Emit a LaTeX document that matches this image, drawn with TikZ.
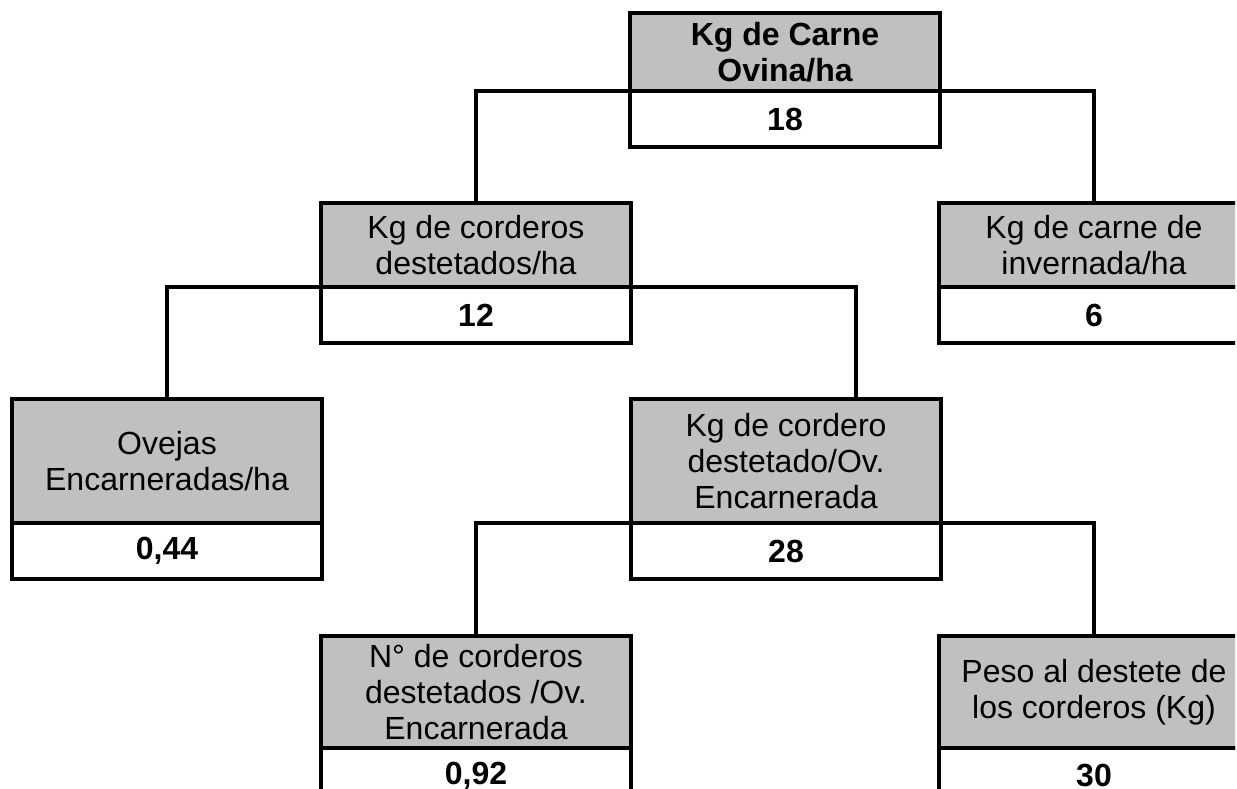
\documentclass[tikz,border=0pt]{standalone}
\usepackage{fontspec}
\setmainfont{Liberation Sans}
\definecolor{boxgray}{HTML}{C0C0C0}
\tikzset{
  head/.style={draw=black, line width=3.2pt, fill=boxgray, minimum width=310pt,
    inner sep=0pt, outer sep=0pt, align=center, anchor=north west,
    font=\fontsize{32}{36}\selectfont},
  val/.style={draw=black, line width=3.2pt, fill=white, minimum width=310pt,
    minimum height=56pt, inner sep=0pt, outer sep=0pt, anchor=north west,
    font=\fontsize{32}{36}\selectfont\bfseries},
  link/.style={line width=3.2pt}
}
\begin{document}
\begin{tikzpicture}[x=1pt, y=-1pt]
\useasboundingbox (0,0) rectangle (1237,789);
\clip (0,0) rectangle (1235,789);

% tree boxes: grey heading with the value cell underneath
\node[head, minimum height=78pt, font=\fontsize{32}{36}\selectfont\bfseries] (Ah) at (630,13) {Kg de Carne\\Ovina/ha};
\node[head, minimum height=84pt] (Bh) at (321,203) {Kg de corderos\\destetados/ha};
\node[head, minimum height=84pt] (Ch) at (939,203) {Kg de carne de\\invernada/ha};
\node[head, minimum height=124pt] (Dh) at (12,399) {Ovejas\\Encarneradas/ha};
\node[head, minimum height=124pt] (Eh) at (631,399) {Kg de cordero\\destetado/Ov.\\Encarnerada};
\node[head, minimum height=112pt] (Fh) at (321,636) {N° de corderos\\destetados /Ov.\\Encarnerada};
\node[head, minimum height=112pt] (Gh) at (939,636) {Peso al destete de\\los corderos (Kg)};

\node[val] (Av) at (Ah.south west) {18};
\node[val] (Bv) at (Bh.south west) {12};
\node[val] (Cv) at (Ch.south west) {6};
\node[val] (Dv) at (Dh.south west) {0,44};
\node[val] (Ev) at (Eh.south west) {28};
\node[val] (Fv) at (Fh.south west) {0,92};
\node[val] (Gv) at (Gh.south west) {30};

% entry point of the connector into the middle-right box
\coordinate (Ein) at ([xshift=70pt]Eh.north);

% connectors leave each parent at the level of its divider line
\draw[link] (Bh.north) |- (Ah.south) -| (Ch.north);
\draw[link] (Dh.north) |- (Bh.south) -| (Ein);
\draw[link] (Fh.north) |- (Eh.south) -| (Gh.north);
\end{tikzpicture}
\end{document}
